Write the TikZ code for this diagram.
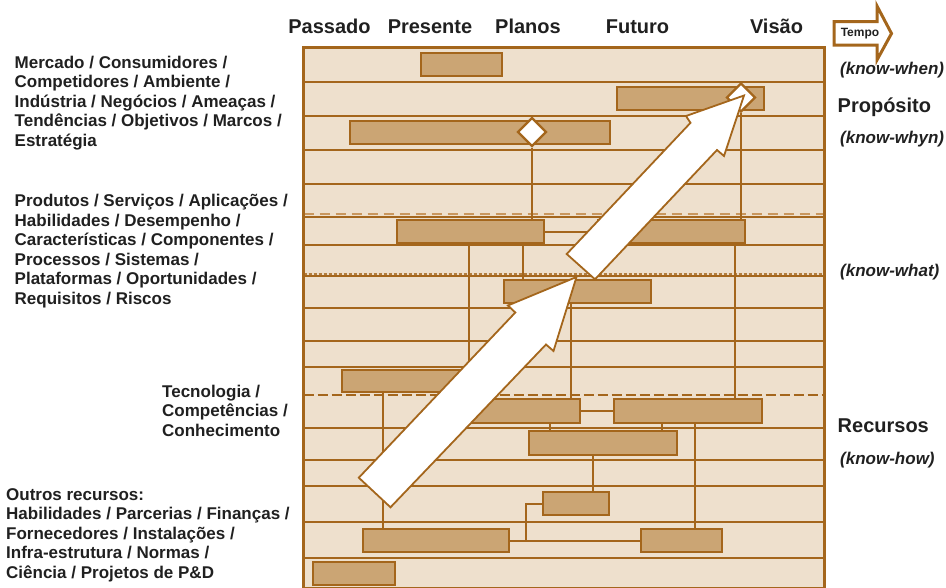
\documentclass[tikz,border=0pt]{standalone}
\usepackage{fontspec}
\setmainfont{Liberation Sans}
\usepackage{tikz}
\usetikzlibrary{shapes.geometric,calc}
\definecolor{roadBrown}{HTML}{A4661C}
\definecolor{roadDash}{HTML}{C9975E}
\definecolor{roadCell}{HTML}{EEE0CD}
\definecolor{roadBar}{HTML}{CBA574}
\definecolor{roadInk}{HTML}{202020}
\newcommand*{\RoadBar}[5]{% #1 = name, #2/#3 = left/top, #4/#5 = right/bottom
\node [planbar, minimum width=#4pt-#2pt, minimum height=#5pt-#3pt]
(#1) at ({(#2+#4)/2},{(#3+#5)/2}) {};
}
\newcommand*{\RoadDrop}[3]{% #1 = upper bar, #2 = offset from its left end, #3 = lower bar
\draw [link] ($(#1.south west)+(#2,0)$) coordinate (drop) -- (drop |- #3.north);
}

\begin{document}
\begin{tikzpicture}[x=1pt, y=-1pt,
    gridline/.style={roadBrown, line width=2pt},
    planbar/.style={draw=roadBrown, fill=roadBar, line width=2.4pt, inner sep=0pt, outer sep=0pt},
    link/.style={roadBrown, line width=2pt},
    gem/.style={diamond, draw=roadBrown, fill=white, line width=2.2pt, inner sep=0pt,
        minimum width=29pt, minimum height=29pt},
    bigarrow/.style={draw=roadBrown, fill=white, line width=1.8pt, line join=miter},
    colhead/.style={font=\fontsize{20}{20}\selectfont\bfseries, text=roadInk, anchor=base, inner sep=0pt},
    side/.style={font=\fontsize{17}{19.5}\selectfont\bfseries, text=roadInk, align=left,
        anchor=base west, inner sep=0pt},
    big/.style={font=\fontsize{20}{20}\selectfont\bfseries, text=roadInk, anchor=base west, inner sep=0pt},
    know/.style={font=\fontsize{17}{19.5}\selectfont\bfseries\itshape, text=roadInk,
        anchor=base west, inner sep=0pt}]

    \useasboundingbox (0,0) rectangle (946,587);

    % chart background and rows
    \fill [roadCell] (303.5,47) rectangle (824.5,588);
    \foreach \y in {81.5,115.5,149.5,183.5,216.5,244.5,275.5,307.5,340.5,366.5,427.5,459.5,485.5,522,558}
        \draw [gridline] (303.5,\y) -- (824.5,\y);
    \draw [roadDash, line width=2pt, dash pattern=on 10pt off 6pt] (303.5,214) -- (824.5,214);
    \draw [roadBrown!85, line width=2pt, dash pattern=on 3pt off 2pt] (303.5,274) -- (824.5,274);
    \draw [roadBrown, line width=2.4pt, dash pattern=on 10pt off 4pt] (303.5,395) -- (824.5,395);
    \draw [roadBrown, line width=3pt] (303.5,47) rectangle (824.5,588);

    % time axis
    \node [colhead] (past) at (329.5,33.5) {Passado};
    \node [colhead] (now) at (430,33.5) {Presente};
    \node [colhead] (plans) at (528,33.5) {Planos};
    \node [colhead] (future) at (637.5,33.5) {Futuro};
    \node [colhead] (vision) at (776.5,33.5) {Visão};
    \draw [roadBrown, fill=white, line width=3pt] (834,21.5) -- (877,21.5) -- (877,6) -- (891.5,33.5)
        -- (877,60) -- (877,45) -- (834,45) -- cycle;
    \node [font=\fontsize{12}{12}\selectfont\bfseries, text=roadInk] (tempo) at (860,33.5) {Tempo};

    % layers (base = last line)
    \node [side] (market) at (14.5,146.3) {Mercado / Consumidores /\\ Competidores / Ambiente /\\
        Indústria / Negócios / Ameaças /\\ Tendências / Objetivos / Marcos /\\ Estratégia};
    \node [side] (products) at (14.5,304.2) {Produtos / Serviços / Aplicações /\\ Habilidades / Desempenho /\\
        Características / Componentes /\\ Processos / Sistemas /\\ Plataformas / Oportunidades /\\
        Requisitos / Riscos};
    \node [side] (tech) at (162,436.3) {Tecnologia /\\ Competências /\\ Conhecimento};
    \node [side] (others) at (6,578) {Outros recursos:\\ Habilidades / Parcerias / Finanças /\\
        Fornecedores / Instalações /\\ Infra-estrutura / Normas /\\ Ciência / Projetos de P\&D};

    \node [know] (when) at (840,74) {(know-when)};
    \node [big] (purpose) at (837.5,112.7) {Propósito};
    \node [know] (why) at (840,143.3) {(know-whyn)};
    \node [know] (what) at (840,276) {(know-what)};
    \node [big] (resources) at (837.5,432.7) {Recursos};
    \node [know] (how) at (840,464) {(know-how)};

    % roadmap bars
    \RoadBar{b1}{421}{53}{502}{76}
    \RoadBar{b2}{617}{87}{764}{110}
    \RoadBar{b3}{350}{121}{610}{144}
    \RoadBar{b4}{397}{220}{544}{243}
    \RoadBar{b5}{598}{220}{745}{243}
    \RoadBar{b6}{504}{280}{651}{303}
    \RoadBar{b7}{342}{370}{478}{392}
    \RoadBar{b8}{455}{399}{580}{423}
    \RoadBar{b9}{614}{399}{762}{423}
    \RoadBar{b10}{529}{431}{677}{455}
    \RoadBar{b11}{543}{492}{609}{515}
    \RoadBar{b12}{363}{529}{509}{552}
    \RoadBar{b13}{641}{529}{722}{552}
    \RoadBar{b14}{313}{562}{395}{585}
    \node [gem] (d1) at (532,132) {};
    \node [gem] (d2) at (741,97.5) {};

    % links
    \draw [link] (d1.south) -- (d1.south |- b4.north);
    \draw [link] (d2.south) -- (d2.south |- b5.north);
    \draw [link] (b4.east) -- (b5.west);
    \RoadDrop{b4}{72}{b8}
    \RoadDrop{b4}{125.5}{b6}
    \RoadDrop{b5}{136.5}{b9}
    \RoadDrop{b6}{67}{b8}
    \RoadDrop{b7}{41}{b12}
    \draw [link] (b8.east) -- (b9.west);
    \RoadDrop{b8}{95}{b10}
    \RoadDrop{b9}{48}{b10}
    \RoadDrop{b9}{81}{b13}
    \RoadDrop{b10}{64}{b11}
    \draw [link] (b12.east) -- (b13.west);
    \draw [link] (b11.west) -- ++(-17,0) |- (b12.east);

    % big arrow
    \draw [bigarrow] (358.8,477.7) -- (515.3,312.5) -- (507.9,305.5) -- (576.5,277)
        -- (553.5,351) -- (546,344.5) -- (390.5,507.3) -- cycle;
    \draw [bigarrow] (566.7,254) -- (690.5,122.8) -- (686,116) -- (744,95.5)
        -- (724,156) -- (717,150) -- (595,279.3) -- cycle;
\end{tikzpicture}
\end{document}
